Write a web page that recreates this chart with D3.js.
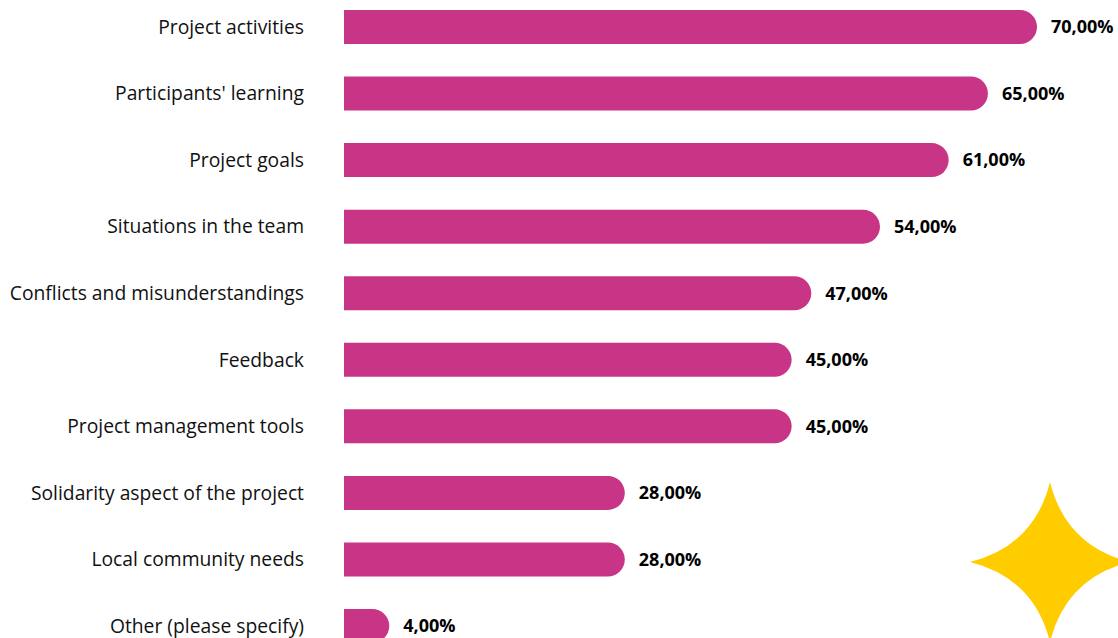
<!DOCTYPE html>
<html><head><meta charset="utf-8">
<script src="https://cdn.jsdelivr.net/npm/d3@7"></script>
<style>html,body{margin:0;padding:0;background:#fff;}svg{display:block;}</style>
</head><body>
<svg id="chart" width="1118" height="638"></svg>
<script>
const categories = ["Project activities","Participants' learning","Project goals","Situations in the team","Conflicts and misunderstandings","Feedback","Project management tools","Solidarity aspect of the project","Local community needs","Other (please specify)"];
const values = [70,65,61,54,47,45,45,28,28,4];
const valueLabels = ["70,00%","65,00%","61,00%","54,00%","47,00%","45,00%","45,00%","28,00%","28,00%","4,00%"];

const svg = d3.select("#chart");
const barLeft = 344, barH = 34, r = barH/2;
const x = d3.scaleLinear().domain([0,70]).range([350,1037]);
const y = d3.scalePoint().domain(categories).range([27,626]);

// decorative star
const cx = 1050, cy = 562, s = 80, k = 0.2;
const star = `M${cx},${cy-s} Q${cx+s*k},${cy-s*k} ${cx+s},${cy} Q${cx+s*k},${cy+s*k} ${cx},${cy+s} Q${cx-s*k},${cy+s*k} ${cx-s},${cy} Q${cx-s*k},${cy-s*k} ${cx},${cy-s} Z`;
svg.append("path").attr("d", star).attr("fill", "#FFCC00");

function barPath(x0, x1, yc){
  const t = yc - r, b = yc + r;
  const xr = Math.max(x0 + 1, x1 - r);
  return `M${x0},${t} H${xr} A${r},${r} 0 0 1 ${xr},${b} H${x0} Z`;
}

const rows = svg.append("g").selectAll("g").data(categories).join("g");
rows.append("path")
  .attr("d", (d,i) => barPath(barLeft, x(values[i]), y(d)))
  .attr("fill", "#C83586");
rows.append("text")
  .attr("x", 304).attr("y", d => y(d)).attr("dy", "0.35em")
  .attr("text-anchor", "end")
  .attr("font-family", "'Open Sans', sans-serif").attr("font-size", 19.3)
  .attr("fill", "#111")
  .text(d => d);
rows.append("text")
  .attr("x", (d,i) => x(values[i]) + 14).attr("y", d => y(d)).attr("dy", "0.35em")
  .attr("font-family", "'Open Sans', sans-serif").attr("font-size", 18).attr("font-weight", 700)
  .attr("fill", "#000")
  .text((d,i) => valueLabels[i]);
</script>
</body></html>
